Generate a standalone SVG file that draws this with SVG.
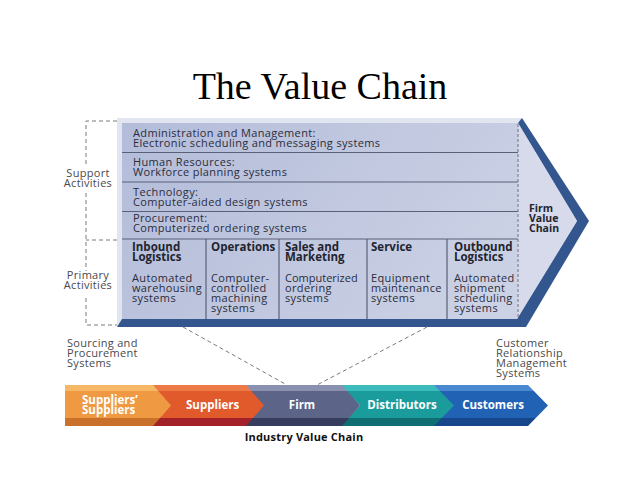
<svg xmlns="http://www.w3.org/2000/svg" width="638" height="479" viewBox="0 0 638 479">
<defs>
<style>
.t{font-family:"Open Sans","Noto Sans",sans-serif;font-size:11px;letter-spacing:0.35px;fill:#2b2d3c}
.b{font-family:"Open Sans","Noto Sans",sans-serif;font-size:11.5px;font-weight:bold;fill:#22242f}
.lbl{font-family:"Open Sans","Noto Sans",sans-serif;font-size:11px;letter-spacing:0.3px;fill:#4a4a4a}
.w{font-family:"Open Sans","Noto Sans",sans-serif;font-size:11.5px;font-weight:bold;fill:#ffffff}
.row{stroke:#5a6078;stroke-width:1.2;fill:none}
.dash{stroke:#7a7a7a;stroke-width:1;stroke-dasharray:4 3;fill:none}
.idash{stroke:#6a6e80;stroke-width:1;stroke-dasharray:3 2;fill:none}
</style>
<linearGradient id="face" x1="0" y1="0" x2="1" y2="0.3">
<stop offset="0" stop-color="#b3bcd9"/>
<stop offset="1" stop-color="#ccd2e5"/>
</linearGradient>
<linearGradient id="g1" x1="0" y1="0" x2="0" y2="1">
<stop offset="0" stop-color="#f6b865"/><stop offset="0.14" stop-color="#f6b865"/>
<stop offset="0.15" stop-color="#ef9a42"/><stop offset="0.8" stop-color="#ef9a42"/>
<stop offset="0.81" stop-color="#c9702a"/><stop offset="1" stop-color="#c9702a"/>
</linearGradient>
<linearGradient id="g2" x1="0" y1="0" x2="0" y2="1">
<stop offset="0" stop-color="#ee7a48"/><stop offset="0.14" stop-color="#ee7a48"/>
<stop offset="0.15" stop-color="#e05a2c"/><stop offset="0.8" stop-color="#e05a2c"/>
<stop offset="0.81" stop-color="#a3222a"/><stop offset="1" stop-color="#a3222a"/>
</linearGradient>
<linearGradient id="g3" x1="0" y1="0" x2="0" y2="1">
<stop offset="0" stop-color="#8a90b0"/><stop offset="0.14" stop-color="#8a90b0"/>
<stop offset="0.15" stop-color="#5c6488"/><stop offset="0.8" stop-color="#5c6488"/>
<stop offset="0.81" stop-color="#363c5e"/><stop offset="1" stop-color="#363c5e"/>
</linearGradient>
<linearGradient id="g4" x1="0" y1="0" x2="0" y2="1">
<stop offset="0" stop-color="#3cbcbc"/><stop offset="0.14" stop-color="#3cbcbc"/>
<stop offset="0.15" stop-color="#1b9c9c"/><stop offset="0.8" stop-color="#1b9c9c"/>
<stop offset="0.81" stop-color="#0f6e72"/><stop offset="1" stop-color="#0f6e72"/>
</linearGradient>
<linearGradient id="g5" x1="0" y1="0" x2="0" y2="1">
<stop offset="0" stop-color="#4a88d0"/><stop offset="0.14" stop-color="#4a88d0"/>
<stop offset="0.15" stop-color="#2262b4"/><stop offset="0.8" stop-color="#2262b4"/>
<stop offset="0.81" stop-color="#17468a"/><stop offset="1" stop-color="#17468a"/>
</linearGradient>
</defs>
<rect width="638" height="479" fill="#ffffff"/>

<text x="320" y="99" text-anchor="middle" style="font-family:'Liberation Serif','Times New Roman',serif;font-size:38px;fill:#000">The Value Chain</text>

<g id="firm-value-chain">
<polygon points="117,118 522,118 589,221 526,327 117,327" fill="#34568f"/>
<polygon points="117,118 522,118 518,123 122,123 122,319 117,327" fill="#e1e5f0"/>
<polygon points="122,123 518,123 577,221 517,319 122,319" fill="url(#face)"/>
<polygon points="518,123 577,221 517,319" fill="#d6daea"/>
<line class="row" x1="122" y1="152.5" x2="518" y2="152.5"/>
<line class="row" x1="122" y1="182" x2="518" y2="182"/>
<line class="row" x1="122" y1="211.5" x2="518" y2="211.5"/>
<line class="row" x1="122" y1="239" x2="518" y2="239"/>
<line class="row" x1="206" y1="239" x2="206" y2="319"/>
<line class="row" x1="279" y1="239" x2="279" y2="319"/>
<line class="row" x1="367" y1="239" x2="367" y2="319"/>
<line class="row" x1="447" y1="239" x2="447" y2="319"/>
<line class="idash" x1="518" y1="124" x2="518" y2="319"/>
<text class="b" x="529" y="212" style="font-size:10.5px">Firm</text>
<text class="b" x="529" y="222" style="font-size:10.5px">Value</text>
<text class="b" x="529" y="232" style="font-size:10.5px">Chain</text>
</g>

<g id="support-admin">
<text class="t" x="133" y="137">Administration and Management:</text>
<text class="t" x="133" y="147">Electronic scheduling and messaging systems</text>
</g>
<g id="support-hr">
<text class="t" x="133" y="166">Human Resources:</text>
<text class="t" x="133" y="176">Workforce planning systems</text>
</g>
<g id="support-tech">
<text class="t" x="133" y="196">Technology:</text>
<text class="t" x="133" y="206">Computer-aided design systems</text>
</g>
<g id="support-procurement">
<text class="t" x="133" y="222">Procurement:</text>
<text class="t" x="133" y="232">Computerized ordering systems</text>
</g>

<g id="primary-inbound">
<text class="b" x="132" y="251">Inbound</text>
<text class="b" x="132" y="261">Logistics</text>
<text class="t" x="132" y="282">Automated</text>
<text class="t" x="132" y="292">warehousing</text>
<text class="t" x="132" y="302">systems</text>
</g>
<g id="primary-operations">
<text class="b" x="211" y="251">Operations</text>
<text class="t" x="211" y="282">Computer-</text>
<text class="t" x="211" y="292">controlled</text>
<text class="t" x="211" y="302">machining</text>
<text class="t" x="211" y="312">systems</text>
</g>
<g id="primary-sales">
<text class="b" x="285" y="251">Sales and</text>
<text class="b" x="285" y="261">Marketing</text>
<text class="t" x="285" y="282" style="letter-spacing:0">Computerized</text>
<text class="t" x="285" y="292">ordering</text>
<text class="t" x="285" y="302">systems</text>
</g>
<g id="primary-service">
<text class="b" x="371" y="251">Service</text>
<text class="t" x="371" y="282">Equipment</text>
<text class="t" x="371" y="292">maintenance</text>
<text class="t" x="371" y="302">systems</text>
</g>
<g id="primary-outbound">
<text class="b" x="454" y="251">Outbound</text>
<text class="b" x="454" y="261">Logistics</text>
<text class="t" x="454" y="282">Automated</text>
<text class="t" x="454" y="292">shipment</text>
<text class="t" x="454" y="302">scheduling</text>
<text class="t" x="454" y="312">systems</text>
</g>

<g id="activity-labels">
<text class="lbl" x="88" y="177" text-anchor="middle">Support</text>
<text class="lbl" x="88" y="187" text-anchor="middle">Activities</text>
<text class="lbl" x="88" y="279" text-anchor="middle">Primary</text>
<text class="lbl" x="88" y="289" text-anchor="middle">Activities</text>
</g>

<g id="sourcing-label">
<text class="lbl" x="67" y="347">Sourcing and</text>
<text class="lbl" x="67" y="357">Procurement</text>
<text class="lbl" x="67" y="367">Systems</text>
</g>
<g id="crm-label">
<text class="lbl" x="496" y="347">Customer</text>
<text class="lbl" x="496" y="357">Relationship</text>
<text class="lbl" x="496" y="367">Management</text>
<text class="lbl" x="496" y="377">Systems</text>
</g>

<g id="connectors">
<polyline class="dash" points="117,121 86,121 86,165"/>
<line class="dash" x1="86" y1="193" x2="86" y2="271"/>
<line class="dash" x1="117" y1="240" x2="86" y2="240"/>
<polyline class="dash" points="86,298 86,325 117,325"/>
<line class="dash" x1="183" y1="327" x2="287" y2="385"/>
<line class="dash" x1="427" y1="327" x2="317" y2="385"/>
</g>

<g id="ind-customers">
<polygon points="432,385 528,385 548,405.5 528,426 432,426 452,405.5" fill="url(#g5)"/>
<text class="w" x="493" y="409" text-anchor="middle">Customers</text>
</g>
<g id="ind-distributors">
<polygon points="340,385 434,385 454,405.5 434,426 340,426 360,405.5" fill="url(#g4)"/>
<text class="w" x="402" y="409" text-anchor="middle">Distributors</text>
</g>
<g id="ind-firm">
<polygon points="245,385 342,385 360,405.5 342,426 245,426 263,405.5" fill="url(#g3)"/>
<text class="w" x="302" y="409" text-anchor="middle">Firm</text>
</g>
<g id="ind-suppliers">
<polygon points="152,385 246,385 264,405.5 246,426 152,426 170,405.5" fill="url(#g2)"/>
<text class="w" x="186" y="409">Suppliers</text>
</g>
<g id="ind-suppliers-suppliers">
<polygon points="65,385 153,385 171,405.5 153,426 65,426" fill="url(#g1)"/>
<text class="w" x="82" y="404">Suppliers’</text>
<text class="w" x="82" y="414">Suppliers</text>
</g>
<text x="304" y="441" text-anchor="middle" style="font-family:'Open Sans','Noto Sans',sans-serif;font-size:11px;font-weight:bold;letter-spacing:0.2px;fill:#111">Industry Value Chain</text>
</svg>
